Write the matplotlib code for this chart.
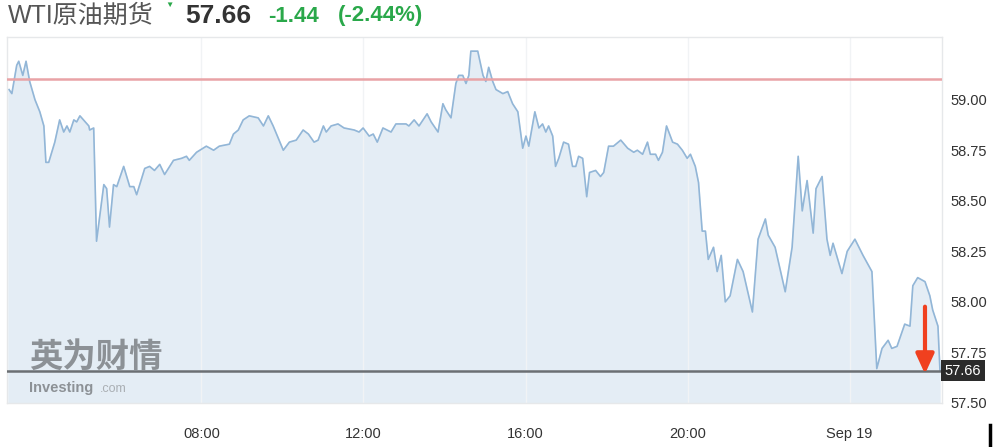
import matplotlib.pyplot as plt
import matplotlib.lines as mlines

plt.rcParams['font.family'] = ['Liberation Sans', 'Noto Sans CJK SC', 'DejaVu Sans']

############# DATA #############
# hours since Sep 18 00:00
hours = [3.25, 3.32, 3.44, 3.49, 3.59, 3.67, 3.76, 3.89, 4.01, 4.11, 4.16, 4.23, 4.38, 4.50, 4.60,
         4.68, 4.75, 4.85, 4.92, 5.00, 5.22, 5.24, 5.34, 5.41, 5.59, 5.66, 5.73, 5.83, 5.91, 6.08,
         6.23, 6.33, 6.40, 6.60, 6.72, 6.84, 6.97, 7.09, 7.31, 7.51, 7.63, 7.70, 7.88, 8.12, 8.30,
         8.44, 8.69, 8.79, 8.91, 9.03, 9.18, 9.40, 9.53, 9.65, 9.77, 10.02, 10.17, 10.34, 10.51, 10.64,
         10.78, 10.88, 11.01, 11.08, 11.20, 11.37, 11.52, 11.77, 11.89, 11.99, 12.14, 12.24, 12.34, 12.48, 12.68,
         12.80, 13.05, 13.12, 13.25, 13.37, 13.57, 13.67, 13.84, 13.96, 14.03, 14.16, 14.28, 14.35, 14.45, 14.53,
         14.60, 14.65, 14.82, 14.95, 15.02, 15.09, 15.19, 15.27, 15.44, 15.56, 15.68, 15.81, 15.93, 16.01, 16.08,
         16.23, 16.33, 16.42, 16.50, 16.57, 16.67, 16.74, 16.82, 16.94, 17.06, 17.16, 17.24, 17.31, 17.41, 17.51,
         17.58, 17.73, 17.85, 17.93, 18.05, 18.17, 18.35, 18.52, 18.67, 18.76, 18.89, 19.01, 19.08, 19.21, 19.28,
         19.38, 19.48, 19.63, 19.75, 19.87, 19.99, 20.07, 20.19, 20.27, 20.36, 20.44, 20.51, 20.64, 20.73, 20.83,
         20.93, 21.05, 21.23, 21.37, 21.60, 21.74, 21.92, 21.99, 22.16, 22.41, 22.58, 22.73, 22.83, 22.95, 23.10,
         23.17, 23.32, 23.44, 23.52, 23.59, 23.81, 23.94, 24.13, 24.33, 24.55, 24.67, 24.80, 24.95, 25.04, 25.17,
         25.36, 25.49, 25.56, 25.68, 25.86, 25.98, 26.05, 26.18, 26.23]
prices = [59.05, 59.03, 59.17, 59.19, 59.12, 59.19, 59.09, 59.00, 58.94, 58.87, 58.69, 58.69, 58.79, 58.90, 58.84,
          58.87, 58.84, 58.90, 58.89, 58.92, 58.87, 58.85, 58.86, 58.30, 58.58, 58.56, 58.37, 58.58, 58.57, 58.67,
          58.57, 58.57, 58.53, 58.66, 58.67, 58.65, 58.68, 58.63, 58.70, 58.71, 58.72, 58.70, 58.74, 58.77, 58.75,
          58.77, 58.78, 58.83, 58.85, 58.90, 58.92, 58.91, 58.87, 58.92, 58.87, 58.75, 58.79, 58.80, 58.85, 58.83,
          58.79, 58.80, 58.87, 58.84, 58.87, 58.88, 58.86, 58.85, 58.84, 58.86, 58.82, 58.83, 58.79, 58.86, 58.84,
          58.88, 58.88, 58.87, 58.90, 58.87, 58.93, 58.89, 58.84, 58.98, 58.95, 58.91, 59.08, 59.12, 59.12, 59.08,
          59.12, 59.24, 59.24, 59.12, 59.09, 59.16, 59.09, 59.05, 59.03, 59.04, 58.98, 58.94, 58.76, 58.82, 58.77,
          58.94, 58.86, 58.88, 58.84, 58.87, 58.82, 58.67, 58.71, 58.79, 58.78, 58.67, 58.67, 58.72, 58.71, 58.52,
          58.64, 58.65, 58.62, 58.64, 58.77, 58.77, 58.80, 58.76, 58.74, 58.75, 58.73, 58.79, 58.73, 58.73, 58.70,
          58.74, 58.87, 58.79, 58.78, 58.75, 58.71, 58.73, 58.67, 58.59, 58.35, 58.35, 58.21, 58.27, 58.15, 58.23,
          58.00, 58.03, 58.21, 58.15, 57.95, 58.31, 58.41, 58.33, 58.27, 58.05, 58.27, 58.72, 58.45, 58.60, 58.34,
          58.56, 58.62, 58.31, 58.23, 58.29, 58.14, 58.25, 58.31, 58.23, 58.15, 57.67, 57.77, 57.81, 57.77, 57.78,
          57.89, 57.88, 58.08, 58.12, 58.10, 58.03, 57.96, 57.88, 57.66]

prev_close = 59.10
last_price = 57.66
change = -1.44
change_pct = -2.44

x_ticks = [8, 12, 16, 20, 24]
x_ticklabels = ['08:00', '12:00', '16:00', '20:00', 'Sep 19']
y_ticks = [57.50, 57.75, 58.00, 58.25, 58.50, 58.75, 59.00]

W, H = 998, 447
fig = plt.figure(figsize=(W / 100, H / 100), dpi=100)
ax = fig.add_axes([7 / W, 44 / H, 935 / W, 366 / H])

ax.fill_between(hours, prices, 57.0, color='#e4edf5', zorder=1)
ax.plot(hours, prices, color='#92b6d7', lw=1.2, zorder=2)

ax.axhline(prev_close, color='#e9a3a6', lw=1.8, zorder=3)
ax.axhline(last_price, color='#6b6f73', lw=1.8, zorder=3)

ax.set_xlim(3.2, 26.28)
ax.set_ylim(57.5, 59.31)

ax.set_xticks(x_ticks)
ax.set_xticklabels(x_ticklabels)
ax.set_yticks(y_ticks)
ax.set_yticklabels(['%.2f' % v for v in y_ticks])
ax.yaxis.tick_right()
ax.tick_params(axis='both', length=0, labelsize=10.5, colors='#333333')
ax.tick_params(axis='x', pad=17)
ax.tick_params(axis='y', pad=6)
ax.grid(axis='x', color='#f1f3f5', lw=1, zorder=0)

for s in ax.spines.values():
    s.set_color('#e6e8ea')
    s.set_linewidth(1)

# current price tag on the right
ax.text(1.003, last_price, '%.2f' % last_price, transform=ax.get_yaxis_transform(),
        ha='left', va='center', color='white', fontsize=10.5,
        bbox=dict(boxstyle='square,pad=0.25', fc='#2b2b2b', ec='none'), zorder=6, clip_on=False)

# red arrow
ax.annotate('', xy=(25.86, 57.63), xytext=(25.86, 57.99),
            arrowprops=dict(arrowstyle='-|>,head_width=0.55,head_length=1.2', color='#f0401f', lw=3),
            zorder=7)

# watermark
fig.text(29 / W, 1 - 357 / H, '英为财情', fontsize=24, fontweight='bold', color='#6f7377',
         alpha=0.75, family=['Noto Sans CJK SC'], va='center')
fig.text(29 / W, 1 - 388 / H, 'Investing', fontsize=10.5, fontweight='bold', color='#7d8185',
         alpha=0.85, va='center')
fig.text(100 / W, 1 - 389 / H, '.com', fontsize=9, color='#a0a4a8', alpha=0.85, va='center')

# header
fig.text(8 / W, 1 - 16 / H, 'WTI原油期货', fontsize=18, color='#555555', va='center',
         family=['Liberation Sans', 'Noto Sans CJK SC'])
fig.text(185 / W, 1 - 16 / H, '%.2f' % last_price, fontsize=19, fontweight='bold', color='#333333', va='center')
fig.text(268 / W, 1 - 16 / H, '%.2f' % change, fontsize=16, fontweight='bold', color='#2aa84a', va='center')
fig.text(338 / W, 1 - 16 / H, '(%.2f%%)' % change_pct, fontsize=16, fontweight='bold', color='#2aa84a', va='center')
fig.text(169 / W, 1 - 5 / H, '▼', fontsize=6, color='#2aa84a', ha='center', va='center')

# stray cursor mark at bottom right
fig.add_artist(mlines.Line2D([990 / W, 990 / W], [0, 22 / H], color='black', lw=2.5))

fig.savefig('out.png', dpi=100)
